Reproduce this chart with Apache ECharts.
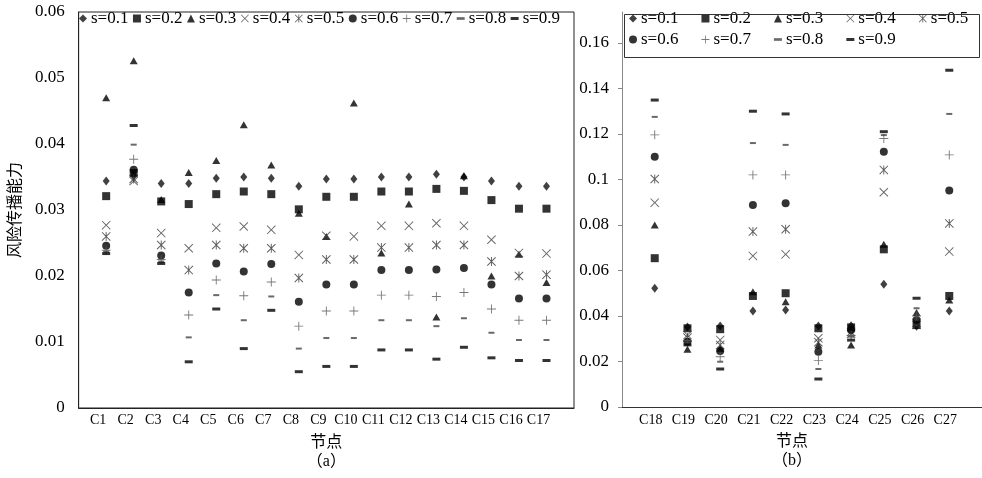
<!DOCTYPE html>
<html>
<head>
<meta charset="utf-8">
<script src="https://cdn.jsdelivr.net/npm/echarts@6/dist/echarts.min.js"></script>
<style>
html,body{margin:0;padding:0;background:#fff;}
#chart{width:982px;height:478px;}
</style>
</head>
<body>
<div id="chart"></div>
<script>
// ---------- data ----------
const seriesNames = ['s=0.1','s=0.2','s=0.3','s=0.4','s=0.5','s=0.6','s=0.7','s=0.8','s=0.9'];

// panel (a)
const catsA = ['C1','C2','C3','C4','C5','C6','C7','C8','C9','C10','C11','C12','C13','C14','C15','C16','C17'];
const a_s01 = [0.0344,0.0352,0.0340,0.0340,0.0348,0.0350,0.0348,0.0336,0.0347,0.0347,0.0350,0.0350,0.0354,0.0350,0.0344,0.0336,0.0336];
const a_s02 = [0.0321,0.0356,0.0313,0.0309,0.0324,0.0328,0.0324,0.0301,0.0320,0.0320,0.0328,0.0328,0.0332,0.0329,0.0315,0.0302,0.0302];
const a_s03 = [0.0470,0.0526,0.0316,0.0357,0.0375,0.0429,0.0368,0.0295,0.0260,0.0462,0.0235,0.0309,0.0138,0.0352,0.0200,0.0233,0.0190];
const a_s04 = [0.0277,0.0344,0.0265,0.0242,0.0273,0.0275,0.0270,0.0232,0.0261,0.0260,0.0276,0.0276,0.0280,0.0276,0.0255,0.0235,0.0234];
const a_s05 = [0.0260,0.0347,0.0247,0.0209,0.0247,0.0242,0.0242,0.0197,0.0225,0.0225,0.0243,0.0243,0.0247,0.0247,0.0222,0.0200,0.0202];
const a_s06 = [0.0246,0.0361,0.0231,0.0175,0.0219,0.0207,0.0218,0.0161,0.0187,0.0187,0.0209,0.0209,0.0210,0.0212,0.0187,0.0166,0.0166];
const a_s07 = [0.0239,0.0377,0.0225,0.0141,0.0194,0.0170,0.0191,0.0124,0.0147,0.0147,0.0171,0.0171,0.0169,0.0175,0.0150,0.0133,0.0133];
const a_s08 = [0.0237,0.0399,0.0222,0.0107,0.0171,0.0133,0.0169,0.0090,0.0106,0.0106,0.0133,0.0133,0.0124,0.0136,0.0114,0.0103,0.0103];
const a_s09 = [0.0234,0.0428,0.0219,0.0070,0.0150,0.0090,0.0148,0.0055,0.0063,0.0063,0.0088,0.0088,0.0074,0.0092,0.0076,0.0072,0.0072];

// panel (b)
const catsB = ['C18','C19','C20','C21','C22','C23','C24','C25','C26','C27'];
const b_s01 = [0.0522,0.0352,0.0356,0.0422,0.0426,0.0356,0.0357,0.0539,0.0355,0.0422];
const b_s02 = [0.0654,0.0346,0.0342,0.0488,0.0500,0.0346,0.0350,0.0693,0.0360,0.0488];
const b_s03 = [0.0800,0.0254,0.0258,0.0507,0.0463,0.0273,0.0273,0.0715,0.0415,0.0470];
const b_s04 = [0.0898,0.0316,0.0295,0.0664,0.0671,0.0302,0.0322,0.0944,0.0362,0.0683];
const b_s05 = [0.1002,0.0305,0.0273,0.0771,0.0781,0.0285,0.0330,0.1042,0.0370,0.0807];
const b_s06 = [0.1100,0.0287,0.0246,0.0888,0.0895,0.0243,0.0338,0.1122,0.0382,0.0951];
const b_s07 = [0.1196,0.0292,0.0221,0.1020,0.1020,0.0204,0.0315,0.1180,0.0400,0.1108];
const b_s08 = [0.1275,0.0280,0.0199,0.1160,0.1152,0.0167,0.0309,0.1195,0.0434,0.1288];
const b_s09 = [0.1349,0.0273,0.0167,0.1300,0.1288,0.0123,0.0294,0.1210,0.0478,0.1480];

const yTicksA = [0,0.01,0.02,0.03,0.04,0.05,0.06];
const yTicksB = [0,0.02,0.04,0.06,0.08,0.1,0.12,0.14,0.16];

// ---------- styles ----------
const FONT = "'Liberation Serif','Times New Roman','Noto Sans CJK SC',serif";
const X_PATH = 'path://M0,0.75L0.75,0L5,4.25L9.25,0L10,0.75L5.75,5L10,9.25L9.25,10L5,5.75L0.75,10L0,9.25L4.25,5Z';
const STAR_PATH = X_PATH + 'M4.5,0H5.5V10H4.5Z';
const PLUS_PATH = 'path://M4.5,0H5.5V4.5H10V5.5H5.5V10H4.5V5.5H0V4.5H4.5Z';
const DASH_S = 'path://M0,0H6V2H0Z';
const DASH_L = 'path://M0,0H8V3H0Z';

const markers = [
  {symbol:'diamond', size:[7,9], color:'#111'},
  {symbol:'rect', size:8, color:'#000'},
  {symbol:'triangle', size:[8,7], color:'#000'},
  {symbol:X_PATH, size:9, color:'#444'},
  {symbol:STAR_PATH, size:9, color:'#333'},
  {symbol:'circle', size:8, color:'#000'},
  {symbol:PLUS_PATH, size:9, color:'#555'},
  {symbol:DASH_S, size:6, color:'#444'},
  {symbol:DASH_L, size:8, color:'#000'}
];

const valsA = [a_s01,a_s02,a_s03,a_s04,a_s05,a_s06,a_s07,a_s08,a_s09];
const valsB = [b_s01,b_s02,b_s03,b_s04,b_s05,b_s06,b_s07,b_s08,b_s09];

const series = [];
function addSeries(vals, axisIdx) {
  vals.forEach((arr, k) => {
    const m = markers[k];
    series.push({
      name: seriesNames[k],
      type: 'scatter',
      xAxisIndex: axisIdx, yAxisIndex: axisIdx,
      symbol: m.symbol, symbolSize: m.size, symbolKeepAspect: true,
      itemStyle: {color: m.color, borderWidth: 0},
      emphasis: {disabled: true},
      data: arr.map((v, i) => [i + 1, v])
    });
  });
}
addSeries(valsA, 0);
addSeries(valsB, 1);

function legendData(idxs) {
  return idxs.map(k => ({name: seriesNames[k], icon: markers[k].symbol,
    itemStyle: {color: markers[k].color, borderWidth: 0}}));
}
const legendCommon = {
  orient: 'horizontal', padding: 0, itemWidth: 8, itemHeight: 8,
  symbolKeepAspect: true, selectedMode: false,
  textStyle: {fontFamily: FONT, fontSize: 17, color: '#000', padding: [0,0,0,-1]}
};

const option = {
  animation: false,
  backgroundColor: '#fff',
  grid: [
    {left: 77, top: 12, width: 497, height: 396, show: true, borderColor: '#222', borderWidth: 1, backgroundColor: 'transparent'},
    {left: 622, top: 12, width: 360, height: 395, show: false}
  ],
  legend: [
    Object.assign({}, legendCommon, {left: 79, top: 10, itemGap: 4.5, data: legendData([0,1,2,3,4,5,6,7,8])}),
    Object.assign({}, legendCommon, {left: 629, top: 10, itemGap: 23, data: legendData([0,1,2,3,4])}),
    Object.assign({}, legendCommon, {left: 629, top: 31, itemGap: 23, data: legendData([5,6,7,8])})
  ],
  graphic: [
    {type: 'rect', left: 622, top: 12, shape: {width: 355, height: 43}, silent: true,
     style: {fill: 'none', stroke: '#333', lineWidth: 1}, z: 10}
  ],
  xAxis: [
    {type: 'value', gridIndex: 0, min: 0, max: catsA.length + 1, interval: 1,
     name: '节点\n（a）', nameLocation: 'middle', nameGap: 25,
     nameTextStyle: {fontFamily: FONT, fontSize: 16, lineHeight: 19, color: '#000'},
     axisLine: {show: true, lineStyle: {color: '#222', width: 1}},
     axisTick: {show: false}, splitLine: {show: false},
     axisLabel: {fontFamily: FONT, fontSize: 14, color: '#000', margin: 5, padding: [0, 16, 0, 0],
       showMinLabel: false, showMaxLabel: false,
       formatter: v => (v >= 1 && v <= catsA.length) ? catsA[Math.round(v) - 1] : ''}},
    {type: 'value', gridIndex: 1, min: 0, max: catsB.length + 1, interval: 1,
     name: '节点\n（b）', nameLocation: 'middle', nameGap: 25,
     nameTextStyle: {fontFamily: FONT, fontSize: 16, lineHeight: 19, color: '#000', padding: [0, 20, 0, 0]},
     axisLine: {show: true, lineStyle: {color: '#333', width: 1}},
     axisTick: {show: false}, splitLine: {show: false},
     axisLabel: {fontFamily: FONT, fontSize: 14, color: '#000', margin: 6, padding: [0, 8, 0, 0],
       showMinLabel: false, showMaxLabel: false,
       formatter: v => (v >= 1 && v <= catsB.length) ? catsB[Math.round(v) - 1] : ''}}
  ],
  yAxis: [
    {type: 'value', gridIndex: 0, min: 0, max: 0.06, interval: 0.01,
     name: '风险传播能力', nameLocation: 'middle', nameGap: 52,
     nameTextStyle: {fontFamily: FONT, fontSize: 16, color: '#000'},
     axisLine: {show: true, lineStyle: {color: '#222', width: 1}},
     axisTick: {show: false}, splitLine: {show: false},
     axisLabel: {fontFamily: FONT, fontSize: 17, color: '#000', margin: 14,
       customValues: yTicksA,
       formatter: v => String(+(+v).toFixed(3))}},
    {type: 'value', gridIndex: 1, min: 0, max: 0.1736, interval: 0.02,
     axisLine: {show: true, lineStyle: {color: '#888', width: 1}},
     axisTick: {show: true, inside: false, length: 4, lineStyle: {color: '#888'}, customValues: yTicksB},
     splitLine: {show: false},
     axisLabel: {fontFamily: FONT, fontSize: 17, color: '#000', margin: 13,
       customValues: yTicksB,
       formatter: v => String(+(+v).toFixed(3))}}
  ],
  series: series
};

const chart = echarts.init(document.getElementById('chart'), null, {renderer: 'canvas'});
chart.setOption(option);
</script>
</body>
</html>
